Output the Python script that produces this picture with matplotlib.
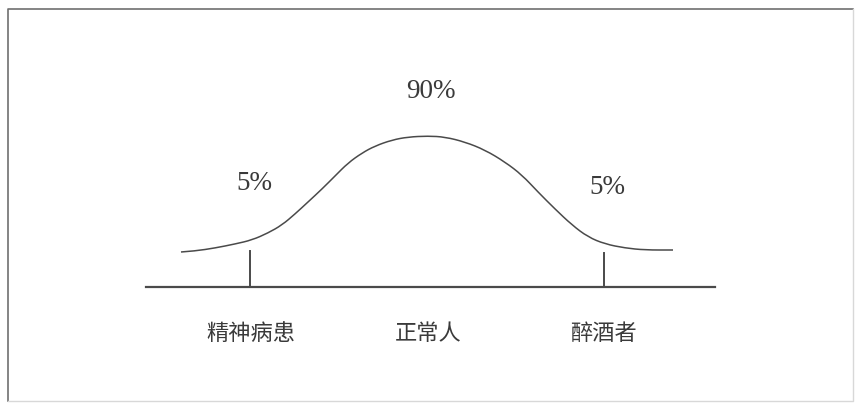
import matplotlib
matplotlib.use('Agg')
import matplotlib.pyplot as plt
from matplotlib.path import Path
from matplotlib.patches import PathPatch

# curve: position along the axis and height above the base line
curve_x = [181, 195, 215, 235, 252, 268, 282, 295, 308, 322, 335, 348, 362, 375, 392,
           408, 428, 445, 465, 485, 505, 522, 538, 555, 572, 588, 605, 625, 645, 673]
curve_h = [35, 36, 39, 43, 47, 54, 62, 73, 85, 98, 111, 124, 134, 141, 147,
           150, 151, 150, 145, 137, 125, 112, 95, 78, 62, 50, 43, 39, 37, 37]

groups = ['精神病患', '正常人', '醉酒者']
group_x = [251, 428, 603]
shares = ['5%', '90%', '5%']
share_x = [254, 431, 607]
share_h = [104, 196, 100]

tick_x = [250, 604]
tick_h = [36, 34]
base_x = [146, 715]

fig = plt.figure(figsize=(8.56, 4.04), dpi=100)
ax = fig.add_axes([0, 0, 1, 1])
ax.set_xlim(0, 856)
ax.set_ylim(-117, 287)
ax.axis('off')

ink = '#4a4a4a'

# frame round the figure
ax.plot([8, 8, 853], [-114, 278, 278], color='#707070', lw=1.2)
ax.plot([8, 853, 853], [-114, -114, 278], color='#d8d8d8', lw=1.0)

# smooth the read points: quadratic bezier pieces between midpoints
pts = list(zip(curve_x, curve_h))
verts = [pts[0]]
codes = [Path.MOVETO]
for i in range(1, len(pts) - 1):
    mid = ((pts[i][0] + pts[i + 1][0]) / 2, (pts[i][1] + pts[i + 1][1]) / 2)
    verts += [pts[i], mid]
    codes += [Path.CURVE3, Path.CURVE3]
verts.append(pts[-1])
codes.append(Path.LINETO)
ax.add_patch(PathPatch(Path(verts, codes), facecolor='none', edgecolor=ink, lw=1.1))

ax.plot(base_x, [0, 0], color=ink, lw=1.6)
for x, h in zip(tick_x, tick_h):
    ax.plot([x, x], [0, h], color=ink, lw=1.4)

for s, x, h in zip(shares, share_x, share_h):
    ax.text(x, h, s, ha='center', va='center', fontsize=19.5,
            family='Liberation Serif', color='#3a3a3a')

for g, x in zip(groups, group_x):
    ax.text(x, -46, g, ha='center', va='center', fontsize=16,
            family=['Noto Sans CJK SC', 'DejaVu Sans'], color='#3a3a3a')

fig.savefig('out.png', dpi=100)
